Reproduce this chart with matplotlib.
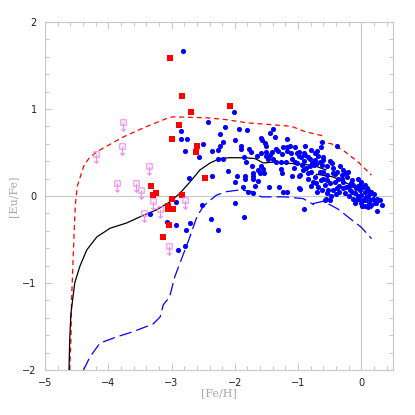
import numpy as np
import matplotlib
matplotlib.use("Agg")
import matplotlib.pyplot as plt
from matplotlib.path import Path

# -------------------------
# Data ([Fe/H], [Eu/Fe])
# -------------------------
# blue dots (stars)
blue_x = [-2.82, -2.85, -2.85, -2.76, -2.78, -2.56, -2.50, -2.42, -2.73, -2.93,
          -3.34, -3.07, -2.93, -2.71, -2.77, -2.89, -2.79, -2.52, -2.37, -2.26,
          -2.00, -1.86, -2.02, -2.15, -1.93, -1.81, -2.24, -1.39, -1.45, -1.59,
          -1.37, -1.57, -1.53, -1.99, -2.19, -2.24, -1.90, -1.78, -1.91, -2.36,
          -2.26, -1.75, -1.58, -1.51, -1.50, -1.42, -1.35, -1.32, -1.24, -1.17,
          -1.18, -1.12, -1.05, -0.99, -1.17, -2.26, -2.18, -1.85, -1.82, -1.65,
          -1.48, -1.51, -1.45, -1.39, -1.35, -1.26, -1.27, -1.19, -1.09, -1.05,
          -1.06, -1.73, -1.58, -1.55, -1.64, -1.27, -1.26, -1.71, -1.60, -1.54,
          -2.10, -2.36, -1.97, -1.84, -1.84, -1.71, -1.71, -1.63, -1.10, -0.98,
          -2.00, -1.68, -1.87, -1.46, -1.30, -1.79, -1.72, -1.24, -1.17, -0.98,
          -0.91, -0.50, -0.56, 0.25, 0.01, 0.11,
          -1.11, -1.02, -0.99, -0.91, -0.89, -0.84, -0.81, -0.73, -0.64, -0.63,
          -0.38, -0.73, -0.71, -0.66, -0.63, -0.60, -0.61, -0.68, -0.75, -0.81,
          -0.88, -0.92, -0.97, -1.02, -0.94, -0.84, -0.79, -0.73, -0.76, -0.71,
          -0.64, -0.60, -0.55, -0.54, -0.50, -0.58, -0.63, -0.52, -0.47, -0.45,
          -0.39, -0.34, -0.29, -0.31, -0.37, -0.42, -0.39, -0.45, -0.29, -0.23,
          -0.21, -0.15, -0.13, -0.05, -0.08, -0.02, -0.10, -0.15, -0.18, 0.00,
          0.06, 0.11, 0.08, 0.03, 0.00, 0.06, 0.13, 0.19, 0.25, 0.29,
          0.16, -0.08, -0.13, -0.26, -0.58, -0.97, -0.68, -0.29, 0.00, -0.05,
          -0.89, -0.80, -0.70, 0.06, 0.13, 0.21, 0.32,
          -0.85, -0.80, -0.70, -0.55, -0.48, -0.40, -0.35, -0.25, -0.20, -0.05,
          0.02, 0.10, 0.15, -0.10, 0.05, -0.30, -0.45, -0.60, -0.66, -0.90,
          -0.95, -0.78, -0.55, -0.50, -0.42, -0.25, -0.17, -0.02, 0.09, 0.20,
          0.23, 0.12, -0.03, -0.20, -0.35]
blue_y = [1.67, 0.75, 0.66, 0.65, 0.52, 0.45, 0.60, 0.85, 0.21, -0.07,
          -0.21, -0.30, -0.33, -0.31, -0.39, -0.62, -0.57, -0.10, -0.26, -0.39,
          -0.08, -0.24, 0.96, 0.79, 0.77, 0.76, 0.71, 0.77, 0.72, 0.67,
          0.68, 0.64, 0.61, 0.64, 0.62, 0.57, 0.57, 0.54, 0.54, 0.52,
          0.53, 0.51, 0.49, 0.51, 0.57, 0.51, 0.54, 0.52, 0.56, 0.66,
          0.56, 0.57, 0.56, 0.51, 0.52, 0.42, 0.42, 0.45, 0.39, 0.46,
          0.43, 0.46, 0.47, 0.43, 0.39, 0.48, 0.39, 0.39, 0.43, 0.39,
          0.32, 0.35, 0.34, 0.31, 0.30, 0.31, 0.27, 0.26, 0.26, 0.26,
          0.29, 0.23, 0.23, 0.23, 0.19, 0.23, 0.19, 0.17, 0.23, 0.23,
          0.16, 0.11, 0.10, 0.10, 0.10, 0.05, 0.03, 0.05, 0.05, 0.09,
          -0.15, -0.05, -0.04, -0.17, -0.12, -0.13,
          0.49, 0.50, 0.46, 0.50, 0.47, 0.45, 0.42, 0.49, 0.56, 0.62,
          0.57, 0.41, 0.37, 0.39, 0.36, 0.41, 0.45, 0.46, 0.36, 0.34,
          0.32, 0.30, 0.24, 0.38, 0.36, 0.27, 0.28, 0.22, 0.16, 0.15,
          0.18, 0.28, 0.24, 0.18, 0.15, 0.13, 0.07, 0.07, 0.38, 0.32,
          0.28, 0.34, 0.30, 0.24, 0.20, 0.16, 0.09, 0.07, 0.16, 0.22,
          0.28, 0.18, 0.13, 0.19, 0.09, 0.07, 0.03, 0.05, 0.07, 0.01,
          0.05, 0.07, -0.01, -0.05, -0.08, -0.12, -0.05, -0.03, -0.03, -0.05,
          -0.10, -0.05, -0.03, 0.03, -0.05, 0.08, 0.10, 0.09, 0.16, 0.11,
          0.57, 0.53, 0.52, 0.13, 0.03, -0.08, -0.10,
          0.20, 0.12, 0.05, 0.03, 0.00, 0.02, 0.12, 0.10, 0.00, 0.00,
          0.10, 0.00, 0.05, -0.08, -0.05, 0.20, 0.27, 0.20, 0.28, 0.40,
          0.45, 0.38, 0.35, 0.40, 0.25, 0.26, 0.15, 0.13, 0.09, 0.02,
          -0.08, -0.09, -0.04, 0.12, 0.05]

# red squares
red_x = [-3.02, -2.84, -2.69, -2.88, -3.00, -2.59, -2.62, -2.08, -2.47, -3.33,
         -3.25, -3.29, -3.00, -2.83, -3.06, -3.06, -2.97, -3.04, -3.14]
red_y = [1.59, 1.15, 0.96, 0.82, 0.65, 0.58, 0.51, 1.03, 0.21, 0.12,
         0.04, 0.01, -0.03, 0.01, -0.11, -0.15, -0.15, -0.33, -0.47]

# upper limits (open squares with arrows)
lim_x = [-3.77, -3.78, -4.19, -3.36, -3.86, -3.56, -3.49, -3.30, -3.43, -3.19, -2.79, -3.04]
lim_y = [0.85, 0.57, 0.48, 0.34, 0.15, 0.15, 0.07, -0.06, -0.19, -0.15, -0.05, -0.57]

# model curves (each has a small break near [Fe/H] = -0.7)
black_x1 = [-4.62, -4.61, -4.59, -4.53, -4.45, -4.34, -4.18, -3.97, -3.71, -3.50,
            -3.24, -3.03, -2.87, -2.71, -2.55, -2.39, -2.24, -2.08, -1.84, -1.68,
            -1.55, -1.37, -1.21, -1.05, -0.87, -0.71, -0.56]
black_y1 = [-2.0, -1.66, -1.35, -1.0, -0.81, -0.62, -0.47, -0.37, -0.31, -0.24,
            -0.16, -0.07, 0.03, 0.16, 0.30, 0.38, 0.43, 0.44, 0.44, 0.43,
            0.38, 0.39, 0.38, 0.37, 0.36, 0.34, 0.30]
black_x2 = [-0.71, -0.45, -0.18, -0.02, 0.08, 0.16]
black_y2 = [0.25, 0.22, 0.13, 0.05, -0.05, -0.14]

red_x1 = [-4.61, -4.59, -4.58, -4.55, -4.53, -4.52, -4.49, -4.39, -4.29, -4.13,
          -3.76, -3.39, -3.08, -2.98, -2.47, -2.16, -1.79, -1.42, -1.10, -0.89, -0.60]
red_y1 = [-2.0, -1.66, -1.20, -0.62, -0.24, -0.10, 0.11, 0.34, 0.45, 0.53,
          0.68, 0.80, 0.89, 0.91, 0.90, 0.88, 0.84, 0.82, 0.80, 0.74, 0.69]
red_x2 = [-0.66, -0.47, -0.26, -0.05, 0.16]
red_y2 = [0.62, 0.60, 0.51, 0.39, 0.24]

blue_cx1 = [-4.39, -4.29, -4.13, -3.87, -3.61, -3.29, -3.18, -3.13, -3.03, -2.95,
            -2.84, -2.71, -2.60, -2.50, -2.39, -2.29, -2.13, -1.92, -1.71, -1.58,
            -1.21, -0.92, -0.75]
blue_cy1 = [-2.0, -1.85, -1.69, -1.62, -1.56, -1.47, -1.39, -1.25, -1.16, -0.93,
            -0.72, -0.47, -0.24, -0.12, -0.05, 0.01, 0.05, 0.07, 0.05, -0.01,
            -0.01, -0.03, -0.10]
blue_cx2 = [-0.78, -0.60, -0.37, -0.16, 0.0, 0.16]
blue_cy2 = [-0.09, -0.06, -0.15, -0.27, -0.36, -0.49]

# -------------------------
# Upper limit marker: open square + down arrow
# -------------------------
verts = [(-1, 1), (1, 1), (1, -1), (-1, -1), (-1, 1),
         (0, 0), (0, -3.2), (-0.8, -2.4), (0, -3.2), (0.8, -2.4)]
codes = [Path.MOVETO, Path.LINETO, Path.LINETO, Path.LINETO, Path.CLOSEPOLY,
         Path.MOVETO, Path.LINETO, Path.MOVETO, Path.LINETO, Path.LINETO]
limit_marker = Path(verts, codes)

# -------------------------
# Plot
# -------------------------
fig = plt.figure(figsize=(4.15, 4.15), dpi=100)
ax = fig.add_axes([0.1084, 0.1084, 0.8386, 0.8386])

grey = "#c8c8c8"
ax.axhline(0, color=grey, lw=0.8, zorder=0)
ax.axvline(0, color=grey, lw=0.8, zorder=0)

ax.plot(red_x1, red_y1, color="red", lw=0.9, dashes=(4, 3))
ax.plot(red_x2, red_y2, color="red", lw=0.9, dashes=(4, 3))
ax.plot(black_x1, black_y1, color="black", lw=0.9)
ax.plot(black_x2, black_y2, color="black", lw=0.9)
ax.plot(blue_cx1, blue_cy1, color="blue", lw=0.9, dashes=(10, 4))
ax.plot(blue_cx2, blue_cy2, color="blue", lw=0.9, dashes=(10, 4))

ax.plot(blue_x, blue_y, "o", color="blue", ms=3.7, mew=0, zorder=3)
ax.plot(red_x, red_y, "s", color="red", ms=4.6, mew=0, zorder=4)
ax.plot(lim_x, lim_y, linestyle="none", marker=limit_marker, ms=12.5,
        mfc="none", mec="#f08cf0", mew=0.8, zorder=4)

ax.set_xlim(-5, 0.5)
ax.set_ylim(-2, 2)
ax.set_xticks([-5, -4, -3, -2, -1, 0])
ax.set_yticks([-2, -1, 0, 1, 2])
ax.set_xticks(np.arange(-5, 0.51, 0.2), minor=True)
ax.set_yticks(np.arange(-2, 2.01, 0.2), minor=True)
ax.tick_params(which="both", direction="in", top=True, right=True,
               color=grey, width=0.8)
ax.tick_params(which="major", length=5, labelsize=7, labelcolor="#202020", pad=6)
ax.tick_params(which="minor", length=3)
for s in ax.spines.values():
    s.set_color(grey)
    s.set_linewidth(0.8)

ax.set_xlabel("[Fe/H]", family="DejaVu Serif", color="#a8a8a8", fontsize=8, labelpad=0)
ax.set_ylabel("[Eu/Fe]", family="DejaVu Serif", color="#a8a8a8", fontsize=8, labelpad=3)

plt.savefig("out.png", dpi=100)
